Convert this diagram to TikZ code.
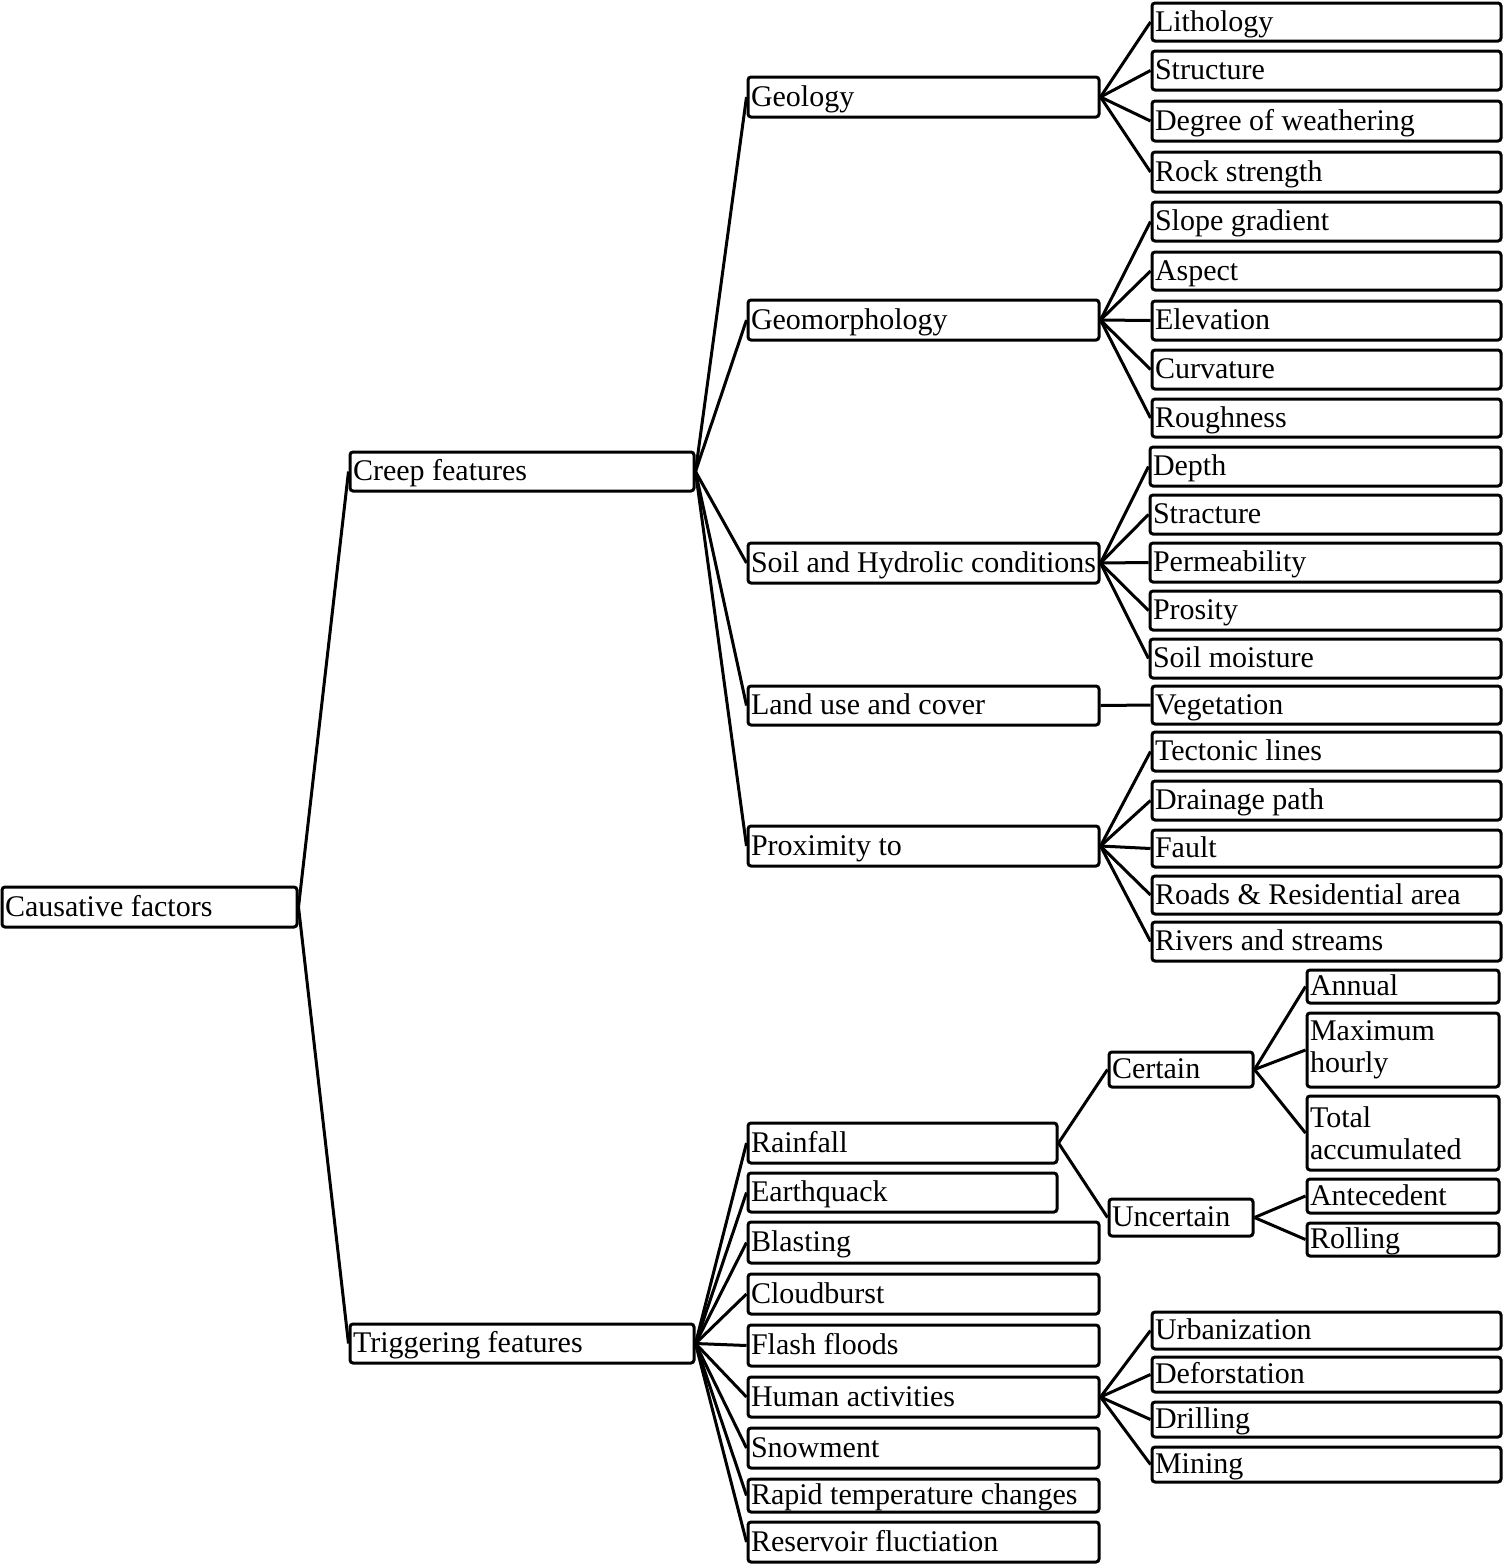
\documentclass[tikz,border=0pt]{standalone}
\usepackage{fontspec}
\setmainfont{Liberation Serif}
\hyphenpenalty=10000
\exhyphenpenalty=10000
\newcommand{\bx}[7][box]{%
  \pgfmathsetmacro{\bxw}{(#5-#3)*0.5-3}%
  \pgfmathsetmacro{\bxh}{(#6-#4)*0.5}%
  \node[#1, text width=\bxw pt, minimum height=\bxh pt] (#2) at ({(#3+#5)/2},{(#4+#6)/2}) {#7};%
}
\begin{document}
\begin{tikzpicture}[x=0.5pt,y=-0.5pt,
  boxbase/.style={draw, line width=1.5pt, rounded corners=1.5pt, inner xsep=1.5pt, inner ysep=0pt, align=flush left, font=\fontsize{15}{16}\selectfont},
  box/.style={boxbase, text height=11pt, text depth=2pt},
  box2/.style={boxbase},
  link/.style={line width=1.5pt}]
\useasboundingbox (0,0) rectangle (1503,1564);
% level 0
\bx{cf}{2}{887}{297}{927}{Causative factors}
% level 1
\bx{creep}{350}{452}{694}{491}{Creep features}
\bx{trig}{350}{1324}{694}{1363}{Triggering features}
% level 2 creep
\bx{geo}{748}{77}{1099}{117}{Geology}
\bx{geom}{748}{300}{1099}{340}{Geomorphology}
\bx{soil}{748}{543}{1099}{583}{Soil and Hydrolic conditions}
\bx{land}{748}{686}{1099}{725}{Land use and cover}
\bx{prox}{748}{826}{1099}{866}{Proximity to}
% level 3 creep
\bx{lith}{1152}{3}{1501}{41}{Lithology}
\bx{struc}{1152}{51}{1501}{90}{Structure}
\bx{weath}{1152}{101}{1501}{141}{Degree of weathering}
\bx{rock}{1152}{152}{1501}{192}{Rock strength}
\bx{slope}{1152}{202}{1501}{241}{Slope gradient}
\bx{asp}{1152}{252}{1501}{290}{Aspect}
\bx{elev}{1152}{301}{1501}{340}{Elevation}
\bx{curv}{1152}{350}{1501}{389}{Curvature}
\bx{rough}{1152}{399}{1501}{437}{Roughness}
\bx{depth}{1150}{447}{1501}{486}{Depth}
\bx{strac}{1150}{495}{1501}{534}{Stracture}
\bx{perm}{1150}{543}{1501}{582}{Permeability}
\bx{pros}{1150}{591}{1501}{630}{Prosity}
\bx{moist}{1150}{639}{1501}{678}{Soil moisture}
\bx{veg}{1152}{686}{1501}{724}{Vegetation}
\bx{tect}{1152}{732}{1501}{771}{Tectonic lines}
\bx{drain}{1152}{781}{1501}{820}{Drainage path}
\bx{fault}{1152}{830}{1501}{867}{Fault}
\bx{roads}{1152}{876}{1501}{914}{Roads \& Residential area}
\bx{rivers}{1152}{922}{1501}{961}{Rivers and streams}
% level 2 triggering
\bx{rain}{748}{1123}{1057}{1163}{Rainfall}
\bx{eq}{748}{1173}{1057}{1212}{Earthquack}
\bx{blast}{748}{1222}{1099}{1263}{Blasting}
\bx{cloud}{748}{1274}{1099}{1314}{Cloudburst}
\bx{flash}{748}{1325}{1099}{1366}{Flash floods}
\bx{human}{748}{1377}{1099}{1417}{Human activities}
\bx{snow}{748}{1428}{1099}{1468}{Snowment}
\bx{rapid}{748}{1479}{1099}{1512}{Rapid temperature changes}
\bx{res}{748}{1522}{1099}{1562}{Reservoir fluctiation}
% rainfall subtree
\bx{cert}{1109}{1052}{1253}{1087}{Certain}
\bx{uncert}{1109}{1199}{1253}{1236}{Uncertain}
\bx{annual}{1307}{970}{1499}{1003}{Annual}
\bx[box2]{maxh}{1307}{1013}{1499}{1087}{Maximum\\hourly}
\bx[box2]{total}{1307}{1096}{1499}{1170}{Total\\accumulated}
\bx{ante}{1307}{1179}{1499}{1213}{Antecedent}
\bx{roll}{1307}{1223}{1499}{1256}{Rolling}
% human subtree
\bx{urban}{1152}{1312}{1501}{1349}{Urbanization}
\bx{defor}{1152}{1357}{1501}{1392}{Deforstation}
\bx{drill}{1152}{1402}{1501}{1437}{Drilling}
\bx{mining}{1152}{1447}{1501}{1482}{Mining}
% connectors
\foreach \c in {creep,trig} \draw[link] (cf.east) -- (\c.west);
\foreach \c in {geo,geom,soil,land,prox} \draw[link] (creep.east) -- (\c.west);
\foreach \c in {lith,struc,weath,rock} \draw[link] (geo.east) -- (\c.west);
\foreach \c in {slope,asp,elev,curv,rough} \draw[link] (geom.east) -- (\c.west);
\foreach \c in {depth,strac,perm,pros,moist} \draw[link] (soil.east) -- (\c.west);
\draw[link] (land.east) -- (veg.west);
\foreach \c in {tect,drain,fault,roads,rivers} \draw[link] (prox.east) -- (\c.west);
\foreach \c in {rain,eq,blast,cloud,flash,human,snow,rapid,res} \draw[link] (trig.east) -- (\c.west);
\foreach \c in {cert,uncert} \draw[link] (rain.east) -- (\c.west);
\foreach \c in {annual,maxh,total} \draw[link] (cert.east) -- (\c.west);
\foreach \c in {ante,roll} \draw[link] (uncert.east) -- (\c.west);
\foreach \c in {urban,defor,drill,mining} \draw[link] (human.east) -- (\c.west);
\end{tikzpicture}
\end{document}
